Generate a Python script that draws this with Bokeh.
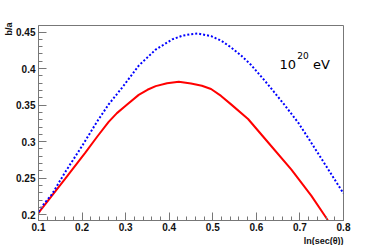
from bokeh.plotting import figure
from bokeh.models import FixedTicker, Label, Range1d, Title
from bokeh.embed import file_html
from bokeh.resources import INLINE

# Blue dotted curve
blue_x = [0.100, 0.108, 0.131, 0.161, 0.200, 0.234, 0.261, 0.292, 0.330, 0.369,
          0.407, 0.430, 0.449, 0.466, 0.496, 0.520, 0.542, 0.565, 0.588, 0.627,
          0.665, 0.696, 0.719, 0.749, 0.800]
blue_y = [0.204, 0.2115, 0.228, 0.258, 0.294, 0.327, 0.351, 0.374, 0.404, 0.426,
          0.440, 0.445, 0.447, 0.448, 0.4445, 0.438, 0.429, 0.418, 0.405, 0.378,
          0.350, 0.326, 0.305, 0.277, 0.229]

# Red solid curve
red_x = [0.100, 0.104, 0.161, 0.2075, 0.235, 0.261, 0.280, 0.300, 0.330, 0.350,
         0.369, 0.395, 0.422, 0.450, 0.475, 0.496, 0.519, 0.542, 0.581, 0.634,
         0.680, 0.726, 0.761, 0.765]
red_y = [0.202, 0.2055, 0.249, 0.285, 0.307, 0.327, 0.339, 0.349, 0.364, 0.371,
         0.376, 0.380, 0.382, 0.3795, 0.3765, 0.372, 0.3626, 0.351, 0.331, 0.294,
         0.262, 0.226, 0.195, 0.191]

x_ticks = [0.1, 0.2, 0.3, 0.4, 0.5, 0.6, 0.7, 0.8]
x_labels = ["0.1", "0.2", "0.3", "0.4", "0.5", "0.6", "0.7", "0.8"]
y_ticks = [0.2, 0.25, 0.3, 0.35, 0.4, 0.45]
y_labels = ["0.2", "0.25", "0.3", "0.35", "0.4", "0.45"]

p = figure(frame_width=305, frame_height=195, output_backend="svg",
           toolbar_location=None, x_range=Range1d(0.1, 0.8),
           y_range=Range1d(0.192, 0.459),
           min_border_left=38, min_border_right=39,
           min_border_top=25, min_border_bottom=25)
p.background_fill_color = "white"
p.border_fill_color = "white"
p.outline_line_color = "#777777"
p.xgrid.visible = False
p.ygrid.visible = False

p.line(red_x, red_y, line_color="#ff0000", line_width=2)
p.line(blue_x, blue_y, line_color="#0000ff", line_width=2, line_dash="2 2")

xminor = [round(0.1 + 0.02 * i, 3) for i in range(36)]
yminor = [round(0.19 + 0.01 * i, 3) for i in range(28)]
p.xaxis.ticker = FixedTicker(ticks=x_ticks, minor_ticks=xminor)
p.yaxis.ticker = FixedTicker(ticks=y_ticks, minor_ticks=yminor)
p.xaxis.major_label_overrides = dict(zip(x_ticks, x_labels))
p.yaxis.major_label_overrides = dict(zip(y_ticks, y_labels))

for ax in (p.xaxis, p.yaxis):
    ax.axis_line_color = "#777777"
    ax.major_tick_line_color = "#777777"
    ax.minor_tick_line_color = "#777777"
    ax.major_tick_in = 8
    ax.major_tick_out = 0
    ax.minor_tick_in = 4
    ax.minor_tick_out = 0
    ax.major_label_text_font = "Liberation Sans"
    ax.major_label_text_font_style = "bold"
    ax.major_label_text_font_size = "10px"
    ax.major_label_text_color = "#111111"
p.xaxis.major_label_standoff = 2
p.yaxis.major_label_standoff = 3

# axis titles
p.add_layout(Title(text="ln(sec(\u03b8))", align="right", text_font="Liberation Sans",
                   text_font_style="bold", text_font_size="9px", text_color="#111111",
                   standoff=0, offset=0), "below")
p.add_layout(Title(text="b/a", align="right", text_font="Liberation Sans",
                   text_font_style="bold", text_font_size="9px", text_color="#111111",
                   standoff=0, offset=-3), "left")

# energy annotation
p.add_layout(Label(x=0.653, y=0.406, text="10", text_font="DejaVu Sans",
                   text_font_size="13px", text_baseline="alphabetic", text_color="black"))
p.add_layout(Label(x=0.694, y=0.418, text="20", text_font="DejaVu Sans",
                   text_font_size="9px", text_baseline="alphabetic", text_color="black"))
p.add_layout(Label(x=0.730, y=0.406, text="eV", text_font="DejaVu Sans",
                   text_font_size="13px", text_baseline="alphabetic", text_color="black"))

open("out.html", "w").write(file_html(p, INLINE))
